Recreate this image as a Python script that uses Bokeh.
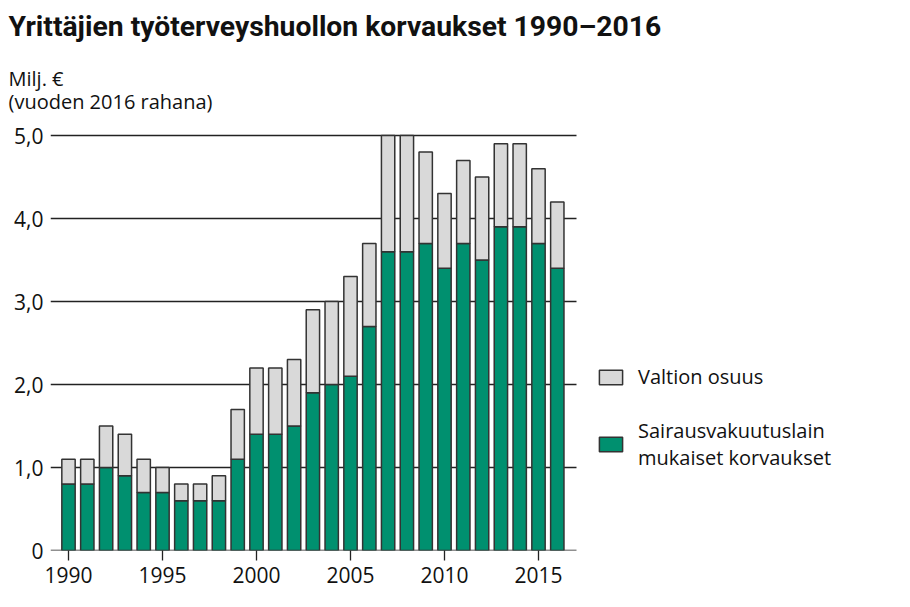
from bokeh.plotting import figure
from bokeh.models import Range1d, FixedTicker, Legend, LegendItem, ColumnDataSource, Title
from bokeh.embed import file_html
from bokeh.resources import INLINE

# ---- data ----
years = list(range(1990, 2017))
korvaukset = [0.8, 0.8, 1.0, 0.9, 0.7, 0.7, 0.6, 0.6, 0.6, 1.1, 1.4, 1.4, 1.5, 1.9,
              2.0, 2.1, 2.7, 3.6, 3.6, 3.7, 3.4, 3.7, 3.5, 3.9, 3.9, 3.7, 3.4]
valtion = [0.3, 0.3, 0.5, 0.5, 0.4, 0.3, 0.2, 0.2, 0.3, 0.6, 0.8, 0.8, 0.8, 1.0,
           1.0, 1.2, 1.0, 1.4, 1.4, 1.1, 0.9, 1.0, 1.0, 1.0, 1.0, 0.9, 0.8]
y_ticks = [0, 1, 2, 3, 4, 5]
y_labels = ["0", "1,0", "2,0", "3,0", "4,0", "5,0"]
x_ticks = [1990, 1995, 2000, 2005, 2010, 2015]
title_text = "Yrittäjien työterveyshuollon korvaukset 1990–2016"
unit_text = "Milj. €\n(vuoden 2016 rahana)"
series_names = ["Sairausvakuutuslain\nmukaiset korvaukset", "Valtion osuus"]

# ---- layout constants ----
GREEN = "#00906f"
GRAY = "#d9d9d9"
EDGE = "#333333"
FONT = "Open Sans"
PX_PER_YEAR = 18.8
PX_PER_UNIT = 83.0
FRAME_LEFT = 50
FRAME_TOP = 123
FRAME_W = 850
FRAME_H = 550 - FRAME_TOP
x_start = 1990 - 18 / PX_PER_YEAR
x_end = x_start + FRAME_W / PX_PER_YEAR
grid_end = 1990 + (576 - 68) / PX_PER_YEAR
y_end = FRAME_H / PX_PER_UNIT

p = figure(frame_width=FRAME_W, frame_height=FRAME_H,
           x_range=Range1d(x_start, x_end), y_range=Range1d(0, y_end),
           output_backend="svg", toolbar_location=None, title=None,
           min_border_left=FRAME_LEFT, min_border_right=0, min_border_top=FRAME_TOP,
           min_border_bottom=40)
p.outline_line_color = None
p.xgrid.visible = False
p.ygrid.visible = False

# gridlines (limited to chart width)
p.segment(x0=[x_start] * len(y_ticks), x1=[grid_end] * len(y_ticks),
          y0=y_ticks, y1=y_ticks, line_color="#222222", line_width=1.3)

src = ColumnDataSource(dict(year=years, k=korvaukset, v=valtion))
rs = p.vbar_stack(["k", "v"], x="year", width=0.71, source=src,
                  fill_color=[GREEN, GRAY], line_color=EDGE, line_width=1.5)

legend = Legend(items=[LegendItem(label=series_names[1], renderers=[rs[1]]),
                       LegendItem(label=series_names[0], renderers=[rs[0]])],
                location=(546, 79), padding=0, margin=0, spacing=27,
                border_line_color=None, background_fill_alpha=0,
                glyph_width=29, glyph_height=18, label_standoff=13,
                label_text_font=FONT, label_text_font_size="20px",
                label_text_line_height=1.25,
                label_text_color="#111111")
p.add_layout(legend)

# axes
xa = p.xaxis[0]
xa.ticker = FixedTicker(ticks=x_ticks)
xa.axis_line_color = None
xa.major_tick_in = 0
xa.major_tick_out = 10
xa.major_tick_line_color = "#222222"
xa.major_tick_line_width = 1.3
xa.minor_tick_line_color = None
xa.major_label_standoff = 6
xa.major_label_text_font = FONT
xa.major_label_text_font_size = "21px"
xa.major_label_text_color = "#111111"

ya = p.yaxis[0]
ya.ticker = FixedTicker(ticks=y_ticks)
ya.major_label_overrides = {t: s for t, s in zip(y_ticks, y_labels)}
ya.axis_line_color = None
ya.major_tick_line_color = None
ya.major_tick_in = 0
ya.major_tick_out = 0
ya.minor_tick_line_color = None
ya.major_label_standoff = 7
ya.major_label_text_font = FONT
ya.major_label_text_font_size = "21px"
ya.major_label_text_color = "#111111"

# titles (first added sits closest to the chart)
p.add_layout(Title(text=unit_text, align="left", offset=-42, standoff=17,
                   text_font=FONT, text_font_style="normal", text_font_size="20px",
                   text_line_height=0.84, text_color="#111111"), "above")
p.add_layout(Title(text=title_text, align="left", vertical_align="top", offset=-42,
                   standoff=18.6, text_font="Roboto", text_font_style="bold",
                   text_font_size="28.3px", text_color="#111111"), "above")

open("out.html", "w").write(file_html(p, INLINE))
